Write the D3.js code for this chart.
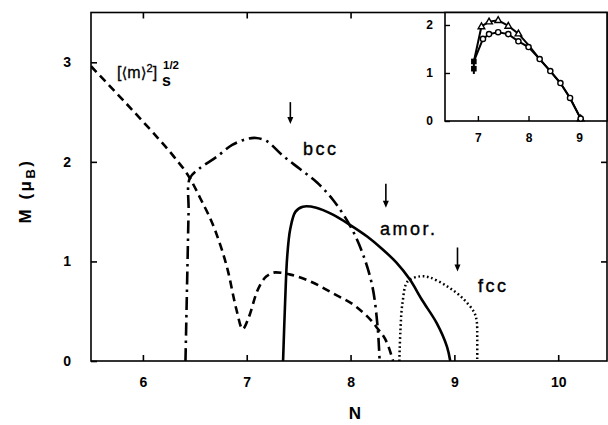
<!DOCTYPE html>
<html>
<head>
<meta charset="utf-8">
<script src="https://cdn.jsdelivr.net/npm/d3@7"></script>
<style>
  html, body { margin: 0; padding: 0; background: #fff; }
  svg { display: block; }
  text { font-family: "Liberation Sans", Arial, sans-serif; fill: #000; }
</style>
</head>
<body>
<svg id="chart" width="608" height="425"></svg>
<script>
// ---------- data ----------
const xTicks = [6, 7, 8, 9, 10];
const yTicks = [0, 1, 2, 3];

// [<m>^2]_s^(1/2)  (dashed)
const dashN = [5.5, 5.8, 6.1, 6.3, 6.45, 6.55, 6.7, 6.82, 6.9, 6.96, 7.02, 7.1, 7.19, 7.28, 7.41, 7.61, 7.83, 8.06, 8.25, 8.36, 8.41];
const dashM = [2.96, 2.63, 2.29, 2.05, 1.84, 1.64, 1.30, 0.90, 0.52, 0.32, 0.44, 0.70, 0.85, 0.89, 0.87, 0.80, 0.68, 0.54, 0.34, 0.16, 0.0];

// bcc (dash-dot)
const bccN = [6.41, 6.42, 6.43, 6.44, 6.45, 6.54, 6.71, 6.86, 7.0, 7.09, 7.19, 7.35, 7.51, 7.68, 7.83, 8.0, 8.12, 8.21, 8.26, 8.28];
const bccM = [0, 0.5, 1.0, 1.5, 1.83, 1.93, 2.05, 2.17, 2.23, 2.24, 2.21, 2.06, 1.93, 1.79, 1.62, 1.35, 1.07, 0.75, 0.35, 0];

// amorphous (solid)
const amN = [7.35, 7.37, 7.39, 7.42, 7.47, 7.54, 7.67, 7.83, 7.99, 8.16, 8.31, 8.44, 8.57, 8.69, 8.83, 8.93, 8.96];
const amM = [0, 0.6, 1.05, 1.33, 1.50, 1.55, 1.54, 1.47, 1.37, 1.25, 1.12, 0.99, 0.82, 0.61, 0.38, 0.14, 0];

// fcc (dotted)
const fccN = [8.47, 8.48, 8.50, 8.55, 8.67, 8.76, 8.93, 9.08, 9.19, 9.215, 9.22, 9.22];
const fccM = [0, 0.3, 0.58, 0.80, 0.85, 0.84, 0.75, 0.63, 0.49, 0.40, 0.22, 0];

// arrows
const arrowN = [7.42, 8.34, 9.03];
const arrowTop = [2.60, 1.78, 1.14];
const arrowBot = [2.38, 1.54, 0.90];

// inset
const insXTicks = [7, 8, 9];
const insYTicks = [0, 1, 2];
const triN = [6.92, 7.07, 7.22, 7.4, 7.6, 7.8, 8.0, 8.22, 8.43, 8.63, 8.82, 9.03];
const triM = [1.24, 1.97, 2.07, 2.10, 1.98, 1.82, 1.58, 1.29, 1.04, 0.79, 0.48, 0.05];
const triMarkN = [7.07, 7.22, 7.4, 7.6, 7.8, 9.03];
const triMarkM = [1.97, 2.07, 2.10, 1.98, 1.82, 0.05];
const cirN = [6.92, 7.1, 7.22, 7.4, 7.6, 7.8, 8.0, 8.22, 8.43, 8.63, 8.82, 9.03];
const cirM = [1.24, 1.71, 1.81, 1.85, 1.81, 1.66, 1.54, 1.29, 1.04, 0.79, 0.48, 0.05];
const sqN = [6.92, 6.92];
const sqM = [1.24, 1.09];

// ---------- layout ----------
const svg = d3.select("#chart");
const L = 91, R = 607, T = 12.5, B = 361;
const x = d3.scaleLinear().domain([5.5, 10.47]).range([L, R]);
const y = d3.scaleLinear().domain([0, 3.5]).range([B, T]);

svg.append("defs").append("clipPath").attr("id", "clip")
  .append("rect").attr("x", L).attr("y", T).attr("width", R - L).attr("height", B - T);

const zip = (a, b) => a.map((v, i) => [v, b[i]]);
const line = d3.line().x(d => x(d[0])).y(d => y(d[1])).curve(d3.curveCatmullRom.alpha(0.5));
const lineM = d3.line().x(d => x(d[0])).y(d => y(d[1])).curve(d3.curveMonotoneX);

const plot = svg.append("g").attr("clip-path", "url(#clip)");
plot.append("path").attr("d", lineM(zip(dashN, dashM)))
  .attr("fill", "none").attr("stroke", "#000").attr("stroke-width", 2.6).attr("stroke-dasharray", "8,5");
plot.append("path").attr("d", line(zip(bccN, bccM)))
  .attr("fill", "none").attr("stroke", "#000").attr("stroke-width", 2.6).attr("stroke-dasharray", "13,5,2.5,5");
plot.append("path").attr("d", line(zip(amN, amM)))
  .attr("fill", "none").attr("stroke", "#000").attr("stroke-width", 2.6);
plot.append("path").attr("d", line(zip(fccN, fccM)))
  .attr("fill", "none").attr("stroke", "#000").attr("stroke-width", 2.5).attr("stroke-dasharray", "1.7,2.7");

// arrows
arrowN.forEach((n, i) => {
  const ax = x(n), y1 = y(arrowTop[i]), y2 = y(arrowBot[i]);
  svg.append("line").attr("x1", ax).attr("x2", ax).attr("y1", y1).attr("y2", y2 - 3)
    .attr("stroke", "#000").attr("stroke-width", 1.6);
  svg.append("path").attr("d", `M${ax - 3},${y2 - 7} L${ax},${y2} L${ax + 3},${y2 - 7} Z`).attr("fill", "#000");
});

// frame
svg.append("rect").attr("x", L).attr("y", T).attr("width", R - L).attr("height", B - T)
  .attr("fill", "none").attr("stroke", "#000").attr("stroke-width", 1.6);

// axes (inward ticks)
const ax1 = svg.append("g").attr("transform", `translate(0,${B})`)
  .call(d3.axisBottom(x).tickValues(xTicks).tickSize(-6).tickSizeOuter(0).tickPadding(16).tickFormat(d3.format("d")));
const ay1 = svg.append("g").attr("transform", `translate(${L},0)`)
  .call(d3.axisLeft(y).tickValues(yTicks).tickSize(-6).tickSizeOuter(0).tickPadding(20).tickFormat(d3.format("d")));
const ax2 = svg.append("g").attr("transform", `translate(0,${T})`)
  .call(d3.axisTop(x).tickValues([6, 7, 8]).tickSize(-6).tickSizeOuter(0).tickFormat(""));
const ay2 = svg.append("g").attr("transform", `translate(${R},0)`)
  .call(d3.axisRight(y).tickValues([1, 2]).tickSize(-6).tickSizeOuter(0).tickFormat(""));
[ax1, ay1, ax2, ay2].forEach(g => {
  g.select(".domain").remove();
  g.selectAll("line").attr("stroke", "#000").attr("stroke-width", 1.6);
  g.selectAll("text").attr("font-size", 14).attr("font-weight", "bold").attr("font-family", "Liberation Sans, Arial, sans-serif");
});

// axis titles
svg.append("text").attr("x", 355).attr("y", 419).attr("text-anchor", "middle")
  .attr("font-size", 17).attr("font-weight", "bold").text("N");
const yl = svg.append("text").attr("transform", "translate(31,191) rotate(-90)")
  .attr("text-anchor", "middle").attr("font-size", 17).attr("font-weight", "bold").attr("letter-spacing", 2.5);
yl.append("tspan").text("M (μ");
yl.append("tspan").attr("dy", 4).attr("font-size", 13).text("B");
yl.append("tspan").attr("dy", -4).text(")");

// curve labels
const lab = (t, px, py) => svg.append("text").attr("x", px).attr("y", py)
  .attr("font-size", 18).attr("letter-spacing", 2.5).attr("stroke", "#000").attr("stroke-width", 0.4).text(t);
lab("bcc", 303, 155);
lab("amor.", 380, 235);
lab("fcc", 478, 292);

const ml = svg.append("text").attr("x", 117).attr("y", 78).attr("font-size", 16)
  .attr("stroke", "#000").attr("stroke-width", 0.3);
ml.append("tspan").text("[");
ml.append("tspan").attr("font-family", "DejaVu Sans, sans-serif").attr("font-size", 15).text("⟨");
ml.append("tspan").text("m");
ml.append("tspan").attr("font-family", "DejaVu Sans, sans-serif").attr("font-size", 15).text("⟩");
ml.append("tspan").attr("dy", -6).attr("font-size", 11).text("2");
ml.append("tspan").attr("dy", 6).text("]");
svg.append("text").attr("x", 162).attr("y", 86).attr("font-size", 16).attr("font-weight", "bold").text("s");
svg.append("text").attr("x", 163).attr("y", 69).attr("font-size", 11.5).attr("font-weight", "bold").text("1/2");

// ---------- inset ----------
const iL = 445, iR = 607, iT = 12.5, iB = 121;
const xi = d3.scaleLinear().domain([6.35, 9.55]).range([iL, iR]);
const yi = d3.scaleLinear().domain([0, 2.26]).range([iB, iT]);
svg.append("rect").attr("x", iL).attr("y", iT).attr("width", iR - iL).attr("height", iB - iT)
  .attr("fill", "#fff").attr("stroke", "#000").attr("stroke-width", 1.6);
const ix = svg.append("g").attr("transform", `translate(0,${iB})`)
  .call(d3.axisBottom(xi).tickValues(insXTicks).tickSize(-5).tickSizeOuter(0).tickPadding(12).tickFormat(d3.format("d")));
const iy = svg.append("g").attr("transform", `translate(${iL},0)`)
  .call(d3.axisLeft(yi).tickValues(insYTicks).tickSize(-5).tickSizeOuter(0).tickPadding(12).tickFormat(d3.format("d")));
[ix, iy].forEach(g => {
  g.select(".domain").remove();
  g.selectAll("line").attr("stroke", "#000").attr("stroke-width", 1.4);
  g.selectAll("text").attr("font-size", 12).attr("font-weight", "bold").attr("font-family", "Liberation Sans, Arial, sans-serif");
});
const iline = d3.line().x(d => xi(d[0])).y(d => yi(d[1]));
svg.append("path").attr("d", iline(zip(triN, triM))).attr("fill", "none").attr("stroke", "#000").attr("stroke-width", 2);
svg.append("path").attr("d", iline(zip(cirN, cirM))).attr("fill", "none").attr("stroke", "#000").attr("stroke-width", 2);
svg.append("line").attr("x1", xi(6.92)).attr("x2", xi(6.92)).attr("y1", yi(0.98)).attr("y2", yi(1.24))
  .attr("stroke", "#000").attr("stroke-width", 2);
zip(triMarkN, triMarkM).forEach(d => {
  const cx = xi(d[0]), cy = yi(d[1]);
  svg.append("path").attr("d", `M${cx},${cy - 3.5} L${cx + 3.3},${cy + 2.3} L${cx - 3.3},${cy + 2.3} Z`)
    .attr("fill", "#fff").attr("stroke", "#000").attr("stroke-width", 1.4);
});
zip(cirN.slice(1), cirM.slice(1)).forEach(d => {
  svg.append("circle").attr("cx", xi(d[0])).attr("cy", yi(d[1])).attr("r", 2.6)
    .attr("fill", "#fff").attr("stroke", "#000").attr("stroke-width", 1.4);
});
zip(sqN, sqM).forEach(d => {
  svg.append("rect").attr("x", xi(d[0]) - 2.8).attr("y", yi(d[1]) - 2.8).attr("width", 5.6).attr("height", 5.6).attr("fill", "#000");
});
</script>
</body>
</html>
